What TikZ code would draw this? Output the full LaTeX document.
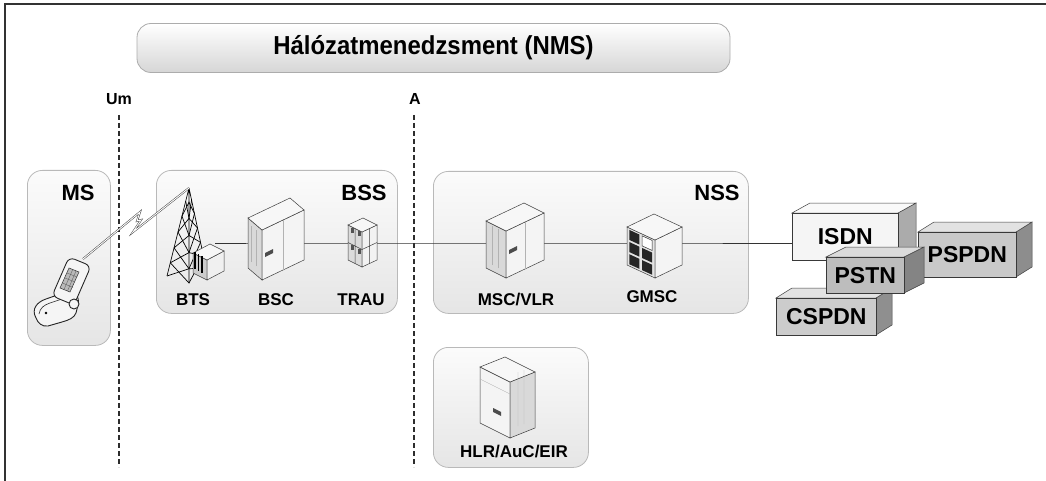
\documentclass[tikz,border=0pt]{standalone}
\usepackage{fontspec}
\setmainfont{Liberation Sans}
\newfontfamily\nmsfont[FakeStretch=0.92]{Liberation Sans}
\usetikzlibrary{calc,positioning}

\colorlet{isdncol}{gray!8}
\colorlet{pspdncol}{gray!42}
\colorlet{pstncol}{gray!52}
\colorlet{cspdncol}{gray!40}

\tikzset{
  area/.style={draw=gray!55, line width=0.8pt, rounded corners=15pt, top color=gray!3, bottom color=gray!20, inner sep=0},
  biglbl/.style={font=\fontsize{22}{22}\selectfont\bfseries, inner sep=0},
  smalllbl/.style={font=\fontsize{17}{17}\selectfont\bfseries, inner sep=0},
  iflbl/.style={font=\fontsize{16}{16}\selectfont\bfseries, inner sep=0},
  ifline/.style={gray!35!black, line width=1.2pt, dash pattern=on 5pt off 3pt},
  link/.style={black!80, line width=0.8pt},
  netface/.style={draw=gray!45!black, line width=0.6pt, inner sep=0, font=\fontsize{23}{23}\selectfont\bfseries},
  radio/.style={draw=gray!55!black, double=white, double distance=0.9pt, line width=0.5pt},
  edge/.style={draw=gray!50!black, line width=0.5pt},
  tower/.style={black, line width=0.7pt},
  phone/.style={draw=black!85, line width=0.9pt, fill=gray!8}
}

% 3D box: front corner x, y, left w, left dy, right w, right dy, height, left fill, right fill
\newcommand{\isobox}[9]{%
  \filldraw[edge, fill=#8] (#1,#2) -- ++(-#3,-#4) -- ++(0,-#7) -- ++(#3,#4) -- cycle;
  \filldraw[edge, fill=#9] (#1,#2) -- ++(#5,-#6) -- ++(0,-#7) -- ++(-#5,#6) -- cycle;
  \filldraw[edge, fill=gray!6] (#1,#2-#7) -- ++(-#3,-#4) -- ++(#5,-#6) -- ++(#3,#4) -- cycle;
}
% network box: name, left x, top y, width, height, depth, label, colour
\newcommand{\netbox}[8]{%
  \filldraw[edge, fill=#8!70!black] (#2+#4,#3) -- ++(#6,-10) -- ++(0,#5) -- ++(-#6,10) -- cycle;
  \filldraw[edge, fill=#8!55!white] (#2,#3) -- ++(#6,-10) -- ++(#4,0) -- ++(-#6,10) -- cycle;
  \node[netface, fill=#8, minimum width=#4pt, minimum height=#5pt, anchor=north west] (#1) at (#2,#3) {#7};
}

\begin{document}
\begin{tikzpicture}[x=1pt, y=-1pt]
\useasboundingbox (0,0) rectangle (1046,481);
\draw[gray!40!black, line width=1.5pt] (5,481) -- (5,4) -- (1046,4);

% management
\node[area, rounded corners=14pt, top color=white, bottom color=gray!32, draw=gray!65,
  minimum width=593pt, minimum height=49pt, font=\fontsize{26}{26}\nmsfont\bfseries] (nms) at (433.5,48) {Hálózatmenedzsment (NMS)};

% subsystems
\node[area, minimum width=83pt, minimum height=175pt, anchor=north west] (msarea) at (27,170) {};
\node[area, minimum width=241pt, minimum height=143pt, anchor=north west] (bssarea) at (156,170) {};
\node[area, minimum width=315pt, minimum height=142pt, anchor=north west] (nssarea) at (433,171) {};
\node[area, minimum width=155pt, minimum height=120pt, anchor=north west] (hlrarea) at (433,347) {};
\node[biglbl, below left=15pt and 16pt of msarea.north east] {MS};
\node[biglbl, below left=15pt and 11pt of bssarea.north east] {BSS};
\node[biglbl, below left=14pt and 9pt of nssarea.north east] {NSS};

% interfaces
\node[iflbl] (um) at (119,99) {Um};
\node[iflbl] (a) at (415,99) {A};
\coordinate (umtop) at (119,115);
\coordinate (umend) at (119,467);
\coordinate (atop) at (414,115);
\coordinate (aend) at (414,467);
\draw[ifline] (umtop) -- (umend);
\draw[ifline] (atop) -- (aend);

% external networks
\netbox{isdn}{792}{213}{106}{47}{18}{ISDN}{isdncol}
\netbox{pspdn}{918}{232}{98}{45}{16}{PSPDN}{pspdncol}
\netbox{cspdn}{776}{298}{100}{37}{16}{CSPDN}{cspdncol}
\netbox{pstn}{826}{257}{78}{36}{20}{PSTN}{pstncol}

% links
\coordinate (bts) at (215,243);
\coordinate (bsc) at (276,243);
\coordinate (trau) at (362,243);
\coordinate (msc) at (516,243);
\coordinate (gmsc) at (655,243);
\draw[link] (bts) -- (bsc) -- (trau) -- (msc) -- (gmsc) -- (isdn.west |- gmsc);

% tower
\coordinate (apex) at (189,188);
\coordinate (lfoot) at (167,276);
\coordinate (rfoot) at (206,268);
\coordinate (mfoot) at (189,283);
\draw[tower] (apex) -- (lfoot) (apex) -- (rfoot) (apex) -- (mfoot);
\foreach \s/\t in {0.15/0.32, 0.32/0.5, 0.5/0.68, 0.68/0.85, 0.85/1} {
  \draw[tower] ($(apex)!\s!(lfoot)$) -- ($(apex)!\t!(mfoot)$) -- ($(apex)!\s!(rfoot)$);
  \draw[tower] ($(apex)!\t!(lfoot)$) -- ($(apex)!\s!(mfoot)$) -- ($(apex)!\t!(rfoot)$);
}
% BTS cabinet
\isobox{207}{280}{14}{7}{17}{9}{20}{gray!40}{gray!12}
\foreach \x in {195,198.5,202} \draw[black, line width=1.6pt] (\x,{275-7*(207-\x)/14}) -- (\x,{258-7*(207-\x)/14});

% BSC
\isobox{262}{280}{14}{12}{42}{20}{50}{gray!30}{gray!9}
\draw[gray!60] (251,262) -- (251,226) (256,266) -- (256,230) (283,270) -- (283,220);
\fill[gray!60!black] (265,253) -- (273,249) -- (273,253) -- (265,257) -- cycle;

% TRAU
\isobox{362}{267}{14}{7}{15}{7}{35}{gray!28}{gray!10}
\draw[edge] (348,242.5) -- (362,249.5) -- (377,242.5) (355,263.5) -- (355,228.5) (369.5,263.5) -- (369.5,228.5);
\foreach \u/\v in {351/250, 358/253.5, 351/232.5, 358/236} \fill[gray!65!black] (\u,\v) rectangle ++(3,-5);

% MSC/VLR
\isobox{506}{278}{20}{10}{38}{18}{47}{gray!30}{gray!9}
\draw[gray!60] (492,265) -- (492,226) (498,268) -- (498,229) (525,269) -- (525,222);
\fill[gray!60!black] (509,250) -- (517,246) -- (517,250) -- (509,254) -- cycle;

% GMSC
\isobox{655}{278}{28}{13}{27}{13}{38}{gray!22}{gray!9}
\foreach \u in {0.1,0.56} \foreach \v in {0.05,0.37,0.69}
  \fill[black!85] ({655-28*\u},{278-13*\u-38*\v}) -- ++(-10,-4.6) -- ++(0,-10) -- ++(10,4.6) -- cycle;
\filldraw[edge, fill=white] ({655-28*0.1},{278-13*0.1-38*0.69}) -- ++(-10,-4.6) -- ++(0,-10) -- ++(10,4.6) -- cycle;

% HLR/AuC/EIR
\isobox{510}{438}{30}{15}{25}{10}{56}{gray!9}{gray!30}
\draw[gray!60] (480,379) -- (510,394) (518,426) -- (518,372) (524,424) -- (524,370);
\fill[gray!60!black] (493,408) -- (501,412) -- (501,416) -- (493,412) -- cycle;

% mobile station
\filldraw[phone] (36,318) .. controls (31,309) and (37,302) .. (46,299) -- (66,292)
  .. controls (75,290) and (80,297) .. (78,305) -- (76,313) .. controls (74,318) and (69,320) .. (62,322)
  -- (48,326) .. controls (42,327) and (38,323) .. (36,318) -- cycle;
\draw[black!85, line width=0.6pt] (39,314) .. controls (40,308) and (44,305) .. (50,303) -- (68,297);
\fill (46,313) circle (1.3pt);
\filldraw[phone, rounded corners=6pt] (52,296) -- (69,257) -- (91,266) -- (74,305) -- cycle;
\filldraw[black!80, fill=gray!55, line width=0.5pt] (60,288) -- (69,268) -- (79,272) -- (70,292) -- cycle;
\draw[black!60, line width=0.4pt] (62.5,283) -- (73,287.5) (65,278) -- (75,282) (67,273) -- (77,277)
  (64,289.5) -- (72.5,270) (67.5,291) -- (76,271);
\filldraw[phone] (74,304) circle (5pt);
\coordinate (ant) at (83,259);
\coordinate (z1) at (140,212);
\coordinate (z2) at (137,221);
\coordinate (z3) at (141,220);
\coordinate (z4) at (133,232);
\draw[radio] (ant) -- (z1) -- (z2) -- (z3) -- (z4) -- (apex);

% labels
\node[smalllbl] at (193,300) {BTS};
\node[smalllbl] at (276,300) {BSC};
\node[smalllbl] at (361,300) {TRAU};
\node[smalllbl] at (516,300) {MSC/VLR};
\node[smalllbl] at (652,297) {GMSC};
\node[smalllbl] at (514,452) {HLR/AuC/EIR};
\end{tikzpicture}
\end{document}
